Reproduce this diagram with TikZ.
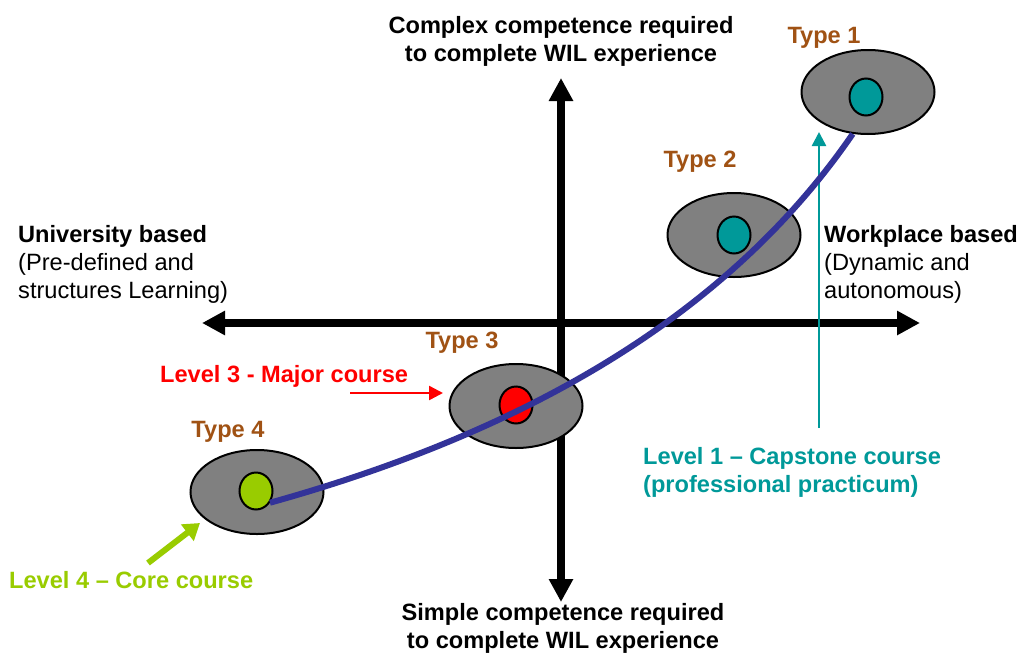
\documentclass[tikz,border=0pt]{standalone}
\usepackage{fontspec}
\setmainfont{Liberation Sans}
\usetikzlibrary{arrows.meta,shapes.geometric}

\definecolor{typebrown}{RGB}{160,82,20}
\definecolor{capteal}{RGB}{0,153,153}
\definecolor{coregreen}{RGB}{153,204,0}
\definecolor{majorred}{RGB}{255,0,0}
\definecolor{trendblue}{RGB}{51,51,153}
\definecolor{wilgray}{RGB}{128,128,128}

\newcommand{\wilsize}{\fontsize{23.6}{28}\selectfont}

\tikzset{
  axis/.style={line width=8pt,
    {Triangle[length=23pt,width=23pt]}-{Triangle[length=23pt,width=23pt]}},
  wil/.style={ellipse, draw=black, line width=2pt, fill=wilgray,
    minimum width=133pt, minimum height=84pt, inner sep=0pt},
  spot/.style={ellipse, draw=black, line width=2pt,
    minimum width=33pt, minimum height=37pt, inner sep=0pt},
  typelabel/.style={text=typebrown, font=\wilsize\bfseries, anchor=base, inner sep=0pt},
  block/.style={inner sep=0pt, align=left},
  pointer/.style={line width=2.5pt, -{Triangle[length=14pt,width=14pt]}},
  trend/.style={draw=trendblue, line width=6pt},
}

\begin{document}
\begin{tikzpicture}[x=1pt,y=-1pt,font=\wilsize]
\path[use as bounding box,fill=white] (0,0) rectangle (1027,653);

% the two axes
\coordinate (west)  at (202,323);
\coordinate (east)  at (920,323);
\coordinate (north) at (561,78);
\coordinate (south) at (561,602);
\draw[axis] (west) -- (east);
\draw[axis] (north) -- (south);

% axis captions
\node[block, anchor=north, align=center, font=\wilsize\bfseries] (complex) at (561,16)
  {Complex competence required\\to complete WIL experience};
\node[block, anchor=north, align=center, font=\wilsize\bfseries] (simple) at (563,603)
  {Simple competence required\\to complete WIL experience};
\node[block, anchor=north west] (uni) at (18,225)
  {\textbf{University based}\\(Pre-defined and\\structures Learning)};
\node[block, anchor=north west] (work) at (824,225)
  {\textbf{Workplace based}\\(Dynamic and\\autonomous)};

% WIL types
\node[wil] (t1) at (868,92) {};
\node[wil] (t2) at (734,235) {};
\node[wil] (t3) at (516,406) {};
\node[wil] (t4) at (257,492) {};
\node[spot, fill=capteal]   (c1) at (866,97) {};
\node[spot, fill=capteal]   (c2) at (734,235) {};
\node[spot, fill=majorred]  (c3) at (516,405) {};
\node[spot, fill=coregreen] (c4) at (256,491) {};
\node[typelabel] (l1) at (824,43)  {Type 1};
\node[typelabel] (l2) at (700,167) {Type 2};
\node[typelabel] (l3) at (462,348) {Type 3};
\node[typelabel] (l4) at (228,437) {Type 4};

% course levels
\node[block, anchor=north west, text=capteal, font=\wilsize\bfseries] (lev1) at (643,447)
  {Level 1 \textendash{} Capstone course\\(professional practicum)};
\node[inner sep=0pt, anchor=base west, text=majorred, font=\wilsize\bfseries] (lev3) at (160,382)
  {Level 3 - Major course};
\node[inner sep=0pt, anchor=base west, text=coregreen, font=\wilsize\bfseries] (lev4) at (9,588)
  {Level 4 \textendash{} Core course};

\coordinate (captail) at (819,428);
\coordinate (captip)  at (819,132);
\coordinate (majtail) at (350,393);
\coordinate (majtip)  at (443,393);
\coordinate (coretail) at (148,563);
\coordinate (coretip)  at (200,523);
\draw[pointer, draw=capteal, fill=capteal] (captail) -- (captip);
\draw[pointer, draw=majorred, fill=majorred] (majtail) -- (majtip);
\draw[line width=6pt, draw=coregreen, fill=coregreen,
  -{Triangle[length=16pt,width=20pt]}] (coretail) -- (coretip);

% progression from type 4 to type 1
\draw[trend] (c4.-40) .. controls (495,440) and (716,333) .. (t1.-110);
\end{tikzpicture}
\end{document}
